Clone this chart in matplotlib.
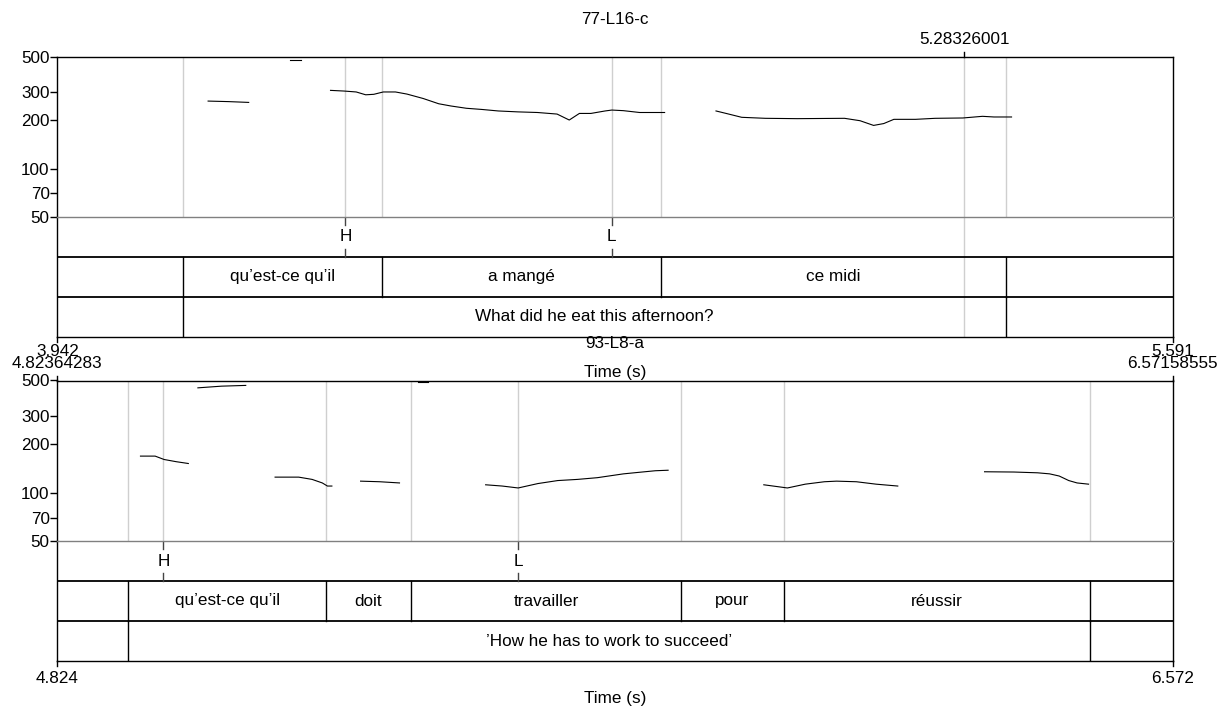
import matplotlib
matplotlib.use("Agg")
import matplotlib.pyplot as plt
from matplotlib.transforms import blended_transform_factory as blend

W, H = 1218, 707
plt.rcParams['font.family'] = ['Liberation Sans', 'DejaVu Sans']
FS = 12.3

# ---------------- data: top panel ----------------
top_title = "77-L16-c"
top_xmin, top_xmax = 3.942, 5.591
top_cursor = 5.28326001
top_seg_t = [
    [4.165, 4.195, 4.225],
    [4.286, 4.302],
    [4.346, 4.366, 4.384, 4.398, 4.410, 4.424, 4.442, 4.459, 4.483, 4.506, 4.524,
     4.547, 4.570, 4.594, 4.623, 4.652, 4.681, 4.699, 4.714, 4.731, 4.752, 4.762,
     4.779, 4.803, 4.840],
    [4.916, 4.931, 4.954, 4.989, 5.036, 5.106, 5.129, 5.149, 5.164, 5.179, 5.211,
     5.240, 5.281, 5.310, 5.327, 5.353],
]
top_seg_hz = [
    [264, 262, 259],
    [477, 477],
    [308, 305, 301, 289, 291, 301, 301, 292, 274, 254, 246, 238, 234, 229, 226,
     224, 219, 201, 221, 221, 229, 232, 230, 224, 224],
    [229, 221, 209, 206, 205, 206, 199, 186, 191, 203, 203, 206, 207, 212, 210, 210],
]
top_tones = ["H", "L"]
top_tone_t = [4.368, 4.762]
top_words = ["qu\u2019est-ce qu\u2019il", "a mang\u00e9", "ce midi"]
top_word_bounds = [4.128, 4.422, 4.834, 5.345]
top_trans = ["What did he eat this afternoon?"]
top_trans_bounds = [4.128, 5.345]
top_xlabels = ["3.942", "5.591"]

# ---------------- data: bottom panel ----------------
bot_title = "93-L8-a"
bot_xmin, bot_xmax = 4.82364283, 6.57158555
bot_seg_t = [
    [4.954, 4.977, 4.991, 5.010, 5.029],
    [5.044, 5.081, 5.119],
    [5.165, 5.202, 5.223, 5.239, 5.247, 5.254],
    [5.299, 5.329, 5.360],
    [5.389, 5.405],
    [5.495, 5.521, 5.546, 5.577, 5.608, 5.639, 5.670, 5.711, 5.736, 5.761, 5.781],
    [5.931, 5.968, 5.996, 6.026, 6.045, 6.076, 6.107, 6.141],
    [6.277, 6.323, 6.360, 6.379, 6.394, 6.409, 6.422, 6.440],
]
bot_seg_hz = [
    [169, 169, 161, 156, 152],
    [450, 461, 466],
    [125, 125, 121, 115, 110, 110],
    [118, 117, 115],
    [488, 488],
    [112, 110, 107, 114, 119, 121, 124, 131, 134, 137, 138],
    [112, 107, 113, 117, 118, 117, 113, 110],
    [135, 134.5, 133, 131, 127, 119, 115, 113],
]
bot_tones = ["H", "L"]
bot_tone_t = [4.990, 5.546]
bot_words = ["qu\u2019est-ce qu\u2019il", "doit", "travailler", "pour", "r\u00e9ussir"]
bot_word_bounds = [4.935, 5.245, 5.378, 5.802, 5.962, 6.443]
bot_trans = ["\u2019How he has to work to succeed\u2019"]
bot_trans_bounds = [4.935, 6.443]
bot_top_labels = ["4.82364283", "6.57158555"]
bot_xlabels = ["4.824", "6.572"]

yticks = [50, 70, 100, 200, 300, 500]

fig = plt.figure(figsize=(W / 100, H / 100), dpi=100)
LEFT, RIGHT = 57.3, 1172.5


def rect(top_px, bot_px):
    return [LEFT / W, 1 - bot_px / H, (RIGHT - LEFT) / W, (bot_px - top_px) / H]


GRAY = "#cfcfcf"


def panel(ptop, pbot, tbot, xmin, xmax, seg_t, seg_hz, tones, tone_t,
          words, wb, trans, tb, pitch_lines, cursor=None):
    axp = fig.add_axes(rect(ptop, pbot))
    axt = fig.add_axes(rect(pbot, tbot))
    for ax in (axp, axt):
        ax.set_xlim(xmin, xmax)
        ax.set_xticks([])
        for s in ax.spines.values():
            s.set_linewidth(1.0)
            s.set_color("black")
    axp.set_yscale("log")
    axp.set_ylim(50, 500)
    axp.set_yticks(yticks)
    axp.set_yticklabels([str(v) for v in yticks])
    axp.minorticks_off()
    axp.yaxis.set_minor_locator(matplotlib.ticker.NullLocator())
    axp.tick_params(axis="y", direction="out", length=5, width=1, pad=0.5,
                    labelsize=FS)
    axp.spines["bottom"].set_visible(False)
    axt.spines["top"].set_color("#808080")
    axt.set_ylim(0, 3)
    axt.set_yticks([])
    # gray boundary lines in pitch area
    for x in pitch_lines:
        axp.axvline(x, color=GRAY, lw=1.0, zorder=1)
    # pitch contour
    for t, f in zip(seg_t, seg_hz):
        axp.plot(t, f, color="black", lw=0.8, zorder=3)
    # tier separators
    axt.axhline(2, color="black", lw=1.3)
    axt.axhline(1, color="black", lw=1.3)
    # tone tier
    for lab, x in zip(tones, tone_t):
        axt.plot([x, x], [3, 2.8], color="#444444", lw=1.0)
        axt.plot([x, x], [2, 2.2], color="#444444", lw=1.0)
        axt.text(x, 2.5, lab, ha="center", va="center", fontsize=FS)
    # word tier
    for x in wb:
        axt.plot([x, x], [1, 2], color="black", lw=1.0)
    for lab, a, b in zip(words, wb[:-1], wb[1:]):
        axt.text((a + b) / 2, 1.5, lab, ha="center", va="center", fontsize=FS)
    # translation tier
    for x in tb:
        axt.plot([x, x], [0, 1], color="black", lw=1.0)
    for lab, a, b in zip(trans, tb[:-1], tb[1:]):
        axt.text((a + b) / 2, 0.5, lab, ha="center", va="center", fontsize=FS)
    if cursor is not None:
        axp.axvline(cursor, color=GRAY, lw=1.0, zorder=1)
        axt.axvline(cursor, color=GRAY, lw=1.0, zorder=0)
    return axp, axt


def ftext(ax, x, ypx, s, **kw):
    ax.text(x, 1 - ypx / H, s, transform=blend(ax.transData, fig.transFigure),
            ha="center", va="center", fontsize=FS, clip_on=False, **kw)


def ftick(ax, x, y0px, y1px):
    ax.plot([x, x], [1 - y0px / H, 1 - y1px / H], color="black", lw=1.0,
            transform=blend(ax.transData, fig.transFigure), clip_on=False)


# ---- top panel ----
tp_lines = [top_word_bounds[0], top_tone_t[0], top_word_bounds[1], top_tone_t[1],
            top_word_bounds[2], top_word_bounds[3]]
axp1, axt1 = panel(56.7, 216.7, 336.7, top_xmin, top_xmax, top_seg_t, top_seg_hz,
                   top_tones, top_tone_t, top_words, top_word_bounds,
                   top_trans, top_trans_bounds, tp_lines, cursor=top_cursor)
ftext(axp1, (top_xmin + top_xmax) / 2, 19.5, top_title)
ftext(axp1, top_cursor, 39.5, f"{top_cursor:.8f}")
ftick(axp1, top_cursor, 51.5, 56.7)
ftick(axt1, top_xmin, 336.7, 341.5)
ftick(axt1, top_xmax, 336.7, 341.5)
ftext(axt1, top_xmin, 351.7, top_xlabels[0])
ftext(axt1, top_xmax, 351.7, top_xlabels[1])
ftext(axt1, (top_xmin + top_xmax) / 2, 372.0, "Time (s)")

# ---- bottom panel ----
bp_lines = [bot_word_bounds[0], bot_tone_t[0], bot_word_bounds[1], bot_word_bounds[2],
            bot_tone_t[1], bot_word_bounds[3], bot_word_bounds[4], bot_word_bounds[5]]
axp2, axt2 = panel(380.5, 541.0, 661.0, bot_xmin, bot_xmax, bot_seg_t, bot_seg_hz,
                   bot_tones, bot_tone_t, bot_words, bot_word_bounds,
                   bot_trans, bot_trans_bounds, bp_lines)
ftext(axp2, (bot_xmin + bot_xmax) / 2, 343.5, bot_title)
ftext(axp2, bot_xmin, 363.3, bot_top_labels[0])
ftext(axp2, bot_xmax, 363.3, bot_top_labels[1])
ftick(axp2, bot_xmin, 375.5, 380.5)
ftick(axp2, bot_xmax, 375.5, 380.5)
ftick(axt2, bot_xmin, 661.0, 666.0)
ftick(axt2, bot_xmax, 661.0, 666.0)
ftext(axt2, bot_xmin, 678.3, bot_xlabels[0])
ftext(axt2, bot_xmax, 678.3, bot_xlabels[1])
ftext(axt2, (bot_xmin + bot_xmax) / 2, 698.0, "Time (s)")

fig.savefig("out.png", dpi=100)
